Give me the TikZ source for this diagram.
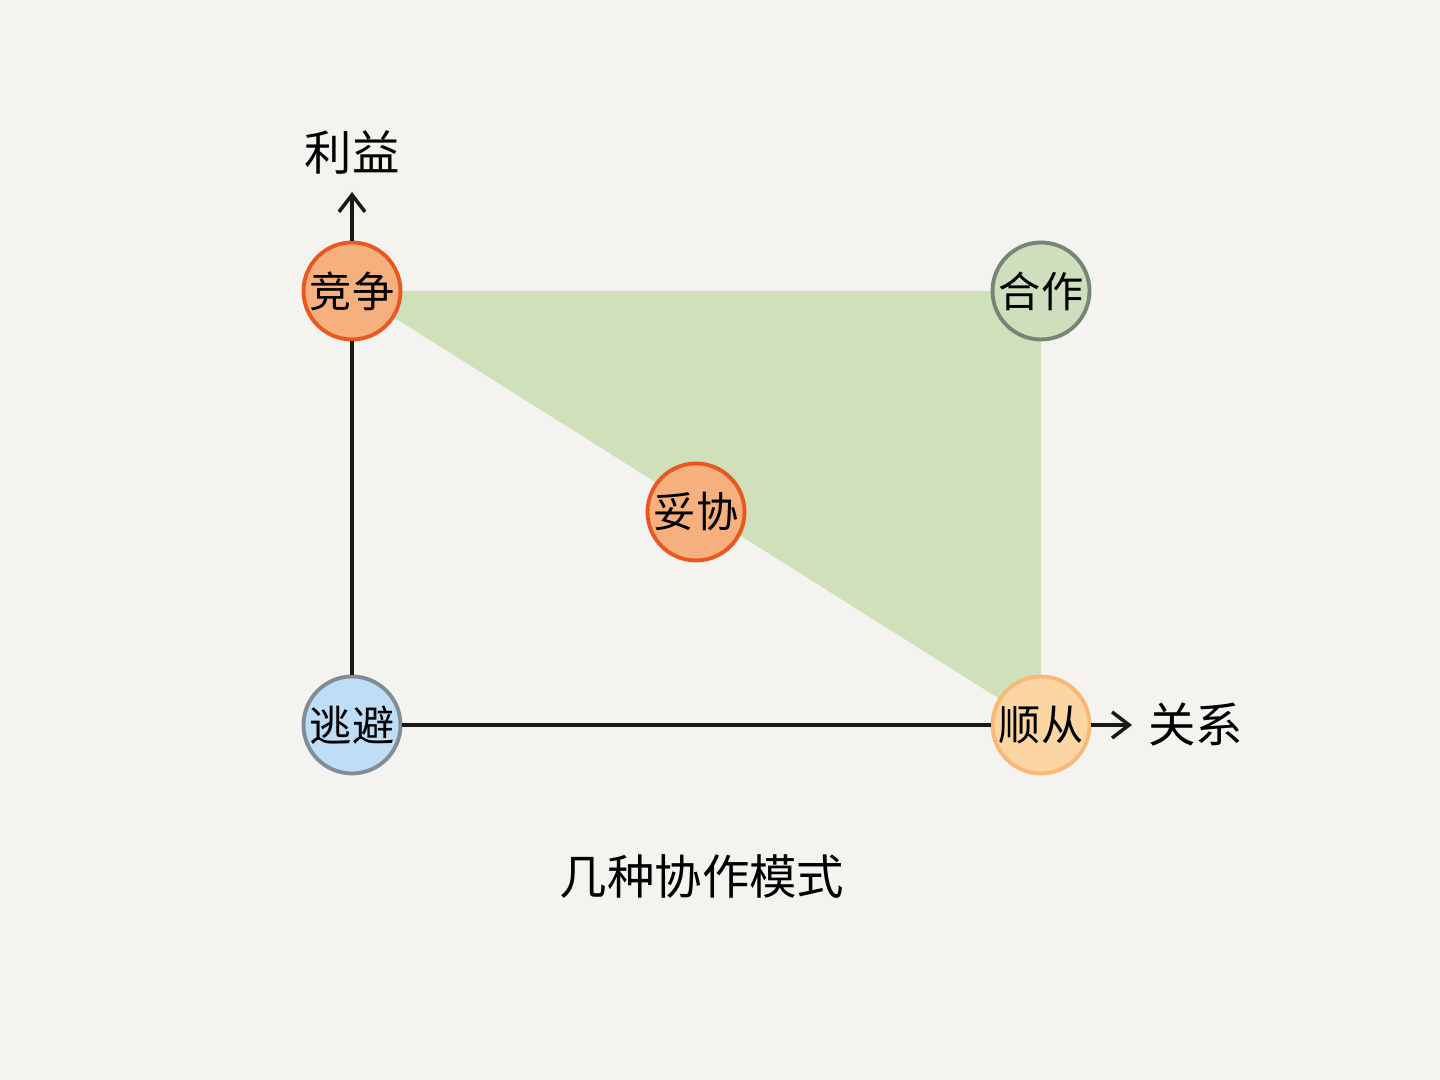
\documentclass[tikz,border=0pt]{standalone}
\usepackage{fontspec}
\newfontfamily\cjk{Noto Sans CJK SC}
\usepackage{tikz}
\usetikzlibrary{arrows.meta,backgrounds}
\definecolor{PageBg} {RGB}{244,243,239}
\definecolor{TriFill}{RGB}{207,224,187}
\definecolor{CmpFill}{RGB}{245,176,125}
\definecolor{CmpLine}{RGB}{234,88,32}
\definecolor{CooFill}{RGB}{207,222,188}
\definecolor{CooLine}{RGB}{118,134,118}
\definecolor{AvdFill}{RGB}{190,221,246}
\definecolor{AvdLine}{RGB}{128,140,150}
\definecolor{AccFill}{RGB}{252,214,162}
\definecolor{AccLine}{RGB}{249,184,118}
\tikzset{
  nd_mode/.style={
    circle, line width=1.1pt,
    minimum size=0.97cm, inner sep=0pt,
    font=\cjk\fontsize{12}{14}\selectfont},
  nd_cmp/.style={nd_mode, draw=CmpLine, fill=CmpFill},
  nd_coo/.style={nd_mode, draw=CooLine, fill=CooFill},
  nd_avd/.style={nd_mode, draw=AvdLine, fill=AvdFill},
  nd_acc/.style={nd_mode, draw=AccLine, fill=AccFill},
  nd_lbl/.style={font=\cjk\fontsize{13.5}{16}\selectfont, inner sep=1pt},
  axis/.style={line width=1.3pt, black!90},
  arr/.style={axis, -{Straight Barb[length=1.7mm,width=2.6mm,line width=1pt]}},
}

\begin{document}
\begin{tikzpicture}[x=1cm,y=1cm]

%% axis positions
\def\Ax{3.52} \def\Ay{3.55} \def\Rx{10.41} \def\Ty{7.89}

\useasboundingbox (0,0) rectangle (14.4,10.8);

%% ── modes ────────────────────────────────────────────────
\node[nd_cmp] at (\Ax,\Ty)    (jz){竞争};
\node[nd_coo] at (\Rx,\Ty)    (hz){合作};
\node[nd_cmp] at (6.96,5.68)  (tx){妥协};
\node[nd_avd] at (\Ax,\Ay)    (tb){逃避};
\node[nd_acc] at (\Rx,\Ay)    (sc){顺从};

\coordinate (yTip) at (\Ax,8.88);
\coordinate (xTip) at (11.32,\Ay);

%% ── axes ─────────────────────────────────────────────────
\draw[axis] (tb)--(jz);
\draw[arr]  (jz)--(yTip);
\draw[axis] (tb)--(sc);
\draw[arr]  (sc)--(xTip);

\node[nd_lbl,above=0.13cm] at (yTip) (ly){利益};
\node[nd_lbl,right=0.12cm] at (xTip) (lx){关系};

%% title
\node[nd_lbl] at (7.02,2.03) (title){几种协作模式};

%% backgrounds
\begin{pgfonlayer}{background}
\fill[PageBg] (0,0) rectangle (14.4,10.8);
\fill[TriFill] (jz.center)--(hz.center)--(sc.center)--cycle;
\end{pgfonlayer}

\end{tikzpicture}
\end{document}
